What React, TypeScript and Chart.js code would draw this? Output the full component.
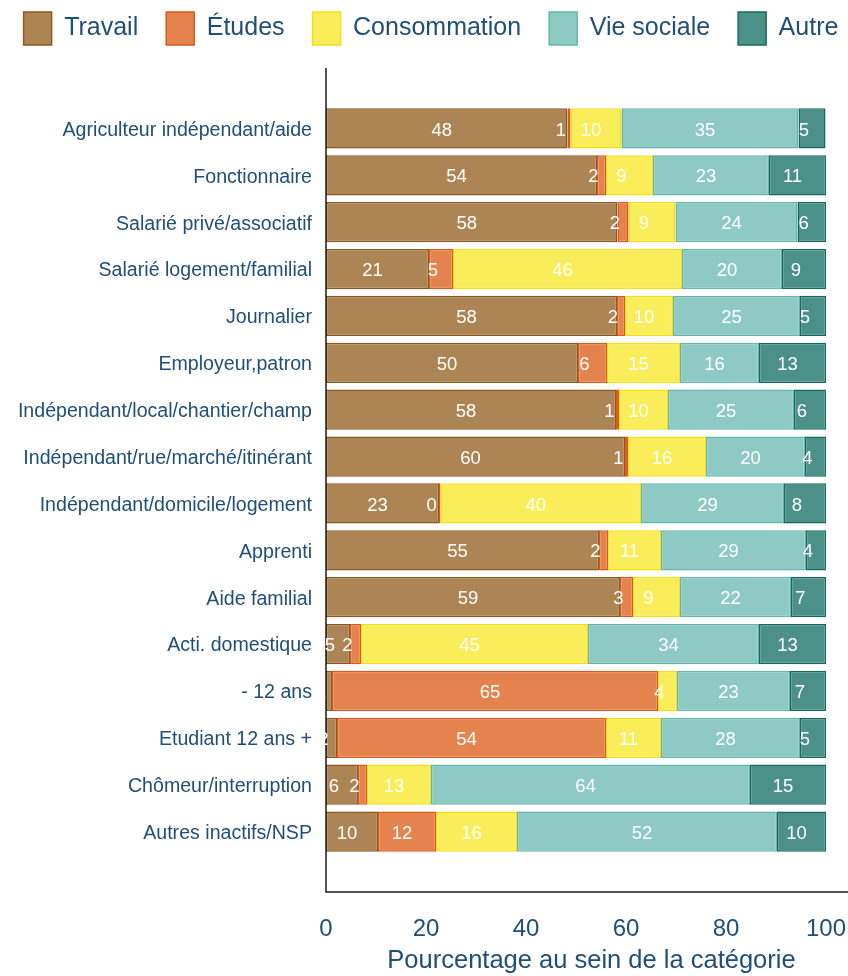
import { useEffect, useRef } from 'react';
import { Chart, registerables } from 'chart.js';

Chart.register(...registerables);

const categories = [
  'Agriculteur indépendant/aide',
  'Fonctionnaire',
  'Salarié privé/associatif',
  'Salarié logement/familial',
  'Journalier',
  'Employeur,patron',
  'Indépendant/local/chantier/champ',
  'Indépendant/rue/marché/itinérant',
  'Indépendant/domicile/logement',
  'Apprenti',
  'Aide familial',
  'Acti. domestique',
  '- 12 ans',
  'Etudiant 12 ans +',
  'Chômeur/interruption',
  'Autres inactifs/NSP',
];

const travail = [48.3, 54.2, 58.3, 20.6, 58.2, 50.4, 58.0, 59.8, 22.6, 54.6, 58.8, 4.8, 1.2, 2.2, 6.4, 10.4];
const etudes = [0.6, 1.8, 2.2, 4.8, 1.6, 5.8, 0.6, 0.6, 0.3, 1.8, 2.6, 2.2, 65.2, 53.8, 1.8, 11.6];
const consommation = [10.2, 9.4, 9.4, 45.8, 9.6, 14.6, 9.8, 15.6, 40.1, 10.6, 9.4, 45.4, 3.8, 11.0, 12.8, 16.2];
const vieSociale = [35.4, 23.2, 24.4, 20.0, 25.4, 15.8, 25.2, 19.8, 28.6, 29.0, 22.2, 34.2, 22.6, 27.8, 63.8, 52.0];
const autre = [5.4, 11.4, 5.7, 8.8, 5.2, 13.4, 6.4, 4.2, 8.4, 4.0, 7.0, 13.4, 7.2, 5.2, 15.2, 9.8];

const seriesNames = ['Travail', 'Études', 'Consommation', 'Vie sociale', 'Autre'];
const seriesValues = [travail, etudes, consommation, vieSociale, autre];
const fillColors = ['#ad8554', '#e5834f', '#f9ee59', '#8ecac3', '#4c9188'];
const borderColors = ['#8c5a1e', '#dc5a1a', '#f3df14', '#62b8ad', '#17695f'];

const xTickStep = 20;
const xTitle = 'Pourcentage au sein de la catégorie';

const TEXT_COLOR = '#1f4e79';
const FONT = '"Liberation Sans", Arial, Helvetica, sans-serif';
const LEGEND_TOP = -16;
const CHART_TOP = 105;

const legendSizePlugin = {
  id: 'legendSize',
  beforeLayout(chart: any) {
    const lg = chart.legend;
    if (lg && !lg.__patched) {
      const orig = lg.fit;
      lg.fit = function () {
        const mw = this.maxWidth;
        this.maxWidth = 5000;
        orig.call(this);
        this.maxWidth = mw;
        this.width = mw;
        this.height = CHART_TOP - LEGEND_TOP;
      };
      lg.__patched = true;
    }
  },
  afterLayout(chart: any) {
    const lg = chart.legend;
    if (lg) {
      // centre the single legend row slightly right of the canvas middle
      lg.left = -193;
      lg.right = chart.width + 207;
    }
    const xs = chart.scales.x;
    if (xs) {
      // the axis region extends past the last tick, to the canvas edge
      xs.right = xs.right + 31;
    }
  },
};

const axisLinesPlugin = {
  id: 'axisLines',
  afterDatasetsDraw(chart: any) {
    const { ctx, chartArea } = chart;
    const ext = 37;
    ctx.save();
    ctx.strokeStyle = '#1a1a1a';
    ctx.lineWidth = 1.5;
    ctx.beginPath();
    ctx.moveTo(chartArea.left, chartArea.top - ext);
    ctx.lineTo(chartArea.left, chartArea.bottom + ext);
    ctx.lineTo(chart.width, chartArea.bottom + ext);
    ctx.stroke();
    ctx.restore();
  },
};

const barLabelsPlugin = {
  id: 'barLabels',
  afterDatasetsDraw(chart: any) {
    const { ctx } = chart;
    ctx.save();
    ctx.fillStyle = '#ffffff';
    ctx.font = `18.5px ${FONT}`;
    ctx.textAlign = 'center';
    ctx.textBaseline = 'middle';
    chart.data.datasets.forEach((ds: any, di: number) => {
      const meta = chart.getDatasetMeta(di);
      meta.data.forEach((el: any, i: number) => {
        const { x, base, y } = el.getProps(['x', 'base', 'y'], true);
        const txt = String(Math.round(ds.data[i]));
        const dx = txt.length === 1 ? -8 : -5;
        ctx.fillText(txt, (x + base) / 2 + dx, y + 2);
      });
    });
    ctx.restore();
  },
};

export default function App() {
  const canvasRef = useRef<HTMLCanvasElement | null>(null);

  useEffect(() => {
    document.body.style.margin = '0';
    const canvas = canvasRef.current;
    if (!canvas) return;
    Chart.defaults.font.family = FONT;
    const chart = new Chart(canvas, {
      type: 'bar',
      data: {
        labels: categories,
        datasets: seriesNames.map((name, k) => ({
          label: name,
          data: seriesValues[k],
          backgroundColor: fillColors[k],
          borderColor: borderColors[k],
          borderWidth: 1.5,
          borderSkipped: false,
          barPercentage: 0.86,
          categoryPercentage: 1,
        })),
      },
      options: {
        indexAxis: 'y',
        responsive: false,
        animation: false,
        layout: { padding: { top: LEGEND_TOP, right: 0, left: 0, bottom: 0 } },
        plugins: {
          legend: {
            position: 'top',
            labels: {
              boxWidth: 28,
              boxHeight: 33,
              padding: 28,
              color: TEXT_COLOR,
              font: { size: 25, family: FONT },
            },
          },
          tooltip: { enabled: false },
          title: { display: false },
        },
        scales: {
          x: {
            stacked: true,
            min: 0,
            max: 100,
            grid: { display: false, drawTicks: false },
            border: { display: false },
            ticks: {
              stepSize: xTickStep,
              color: TEXT_COLOR,
              font: { size: 24, family: FONT },
              padding: 60,
            },
            title: {
              display: true,
              text: xTitle,
              color: TEXT_COLOR,
              font: { size: 25.5, family: FONT },
              padding: { top: 0, bottom: 0 },
            },
            afterFit: (s: any) => {
              s.height = 121;
              s.paddingLeft = 0;
              s.paddingRight = 22;
            },
          },
          y: {
            stacked: true,
            grid: { display: false, drawTicks: false },
            border: { display: false },
            ticks: {
              autoSkip: false,
              color: TEXT_COLOR,
              font: { size: 19.6, family: FONT },
              padding: 14,
              labelOffset: 2,
            },
            afterFit: (s: any) => {
              s.width = 326;
            },
          },
        },
      },
      plugins: [legendSizePlugin, axisLinesPlugin, barLabelsPlugin],
    } as any);
    return () => chart.destroy();
  }, []);

  return (
    <div style={{ width: 848, height: 976 }}>
      <canvas ref={canvasRef} width={848} height={976} style={{ display: 'block' }} />
    </div>
  );
}
